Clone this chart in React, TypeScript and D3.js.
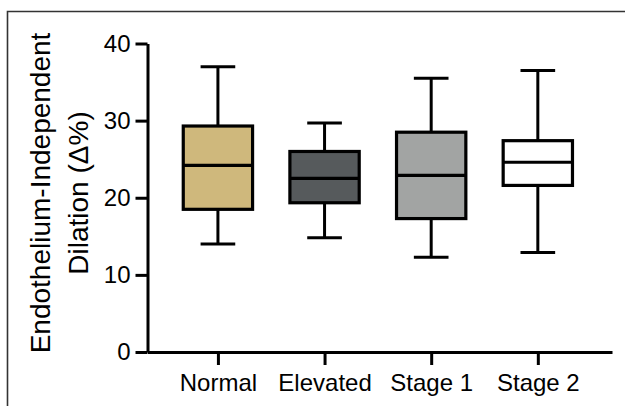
import * as d3 from "d3";
import React, { useEffect, useRef } from "react";

const groups = ["Normal", "Elevated", "Stage 1", "Stage 2"];
const whiskerLow = [14.0, 14.8, 12.3, 12.9];
const quart1 = [18.5, 19.35, 17.3, 21.6];
const medians = [24.2, 22.5, 22.9, 24.6];
const quart3 = [29.3, 26.0, 28.5, 27.4];
const whiskerHigh = [37.0, 29.7, 35.5, 36.5];
const yTicks = [0, 10, 20, 30, 40];
const fills = ["#CFB87C", "#565A5C", "#A2A4A3", "#FFFFFF"];

const FONT = "'Liberation Sans', Arial, sans-serif";

const App: React.FC = () => {
  const ref = useRef<SVGSVGElement>(null);

  useEffect(() => {
    if (!ref.current) return;
    const svg = d3.select(ref.current);
    svg.selectAll("*").remove();

    const left = 147.5,
      right = 612,
      top = 43.5,
      bottom = 352;

    const x = d3
      .scalePoint<string>()
      .domain(groups)
      .range([left, right])
      .padding(0.678)
      .align(0.487);

    const y = d3.scaleLinear().domain([0, 40]).range([bottom, top]);

    const boxW = x.step() * 0.65;
    const capW = boxW / 2;

    // frame around the figure (only left and top edges visible)
    svg
      .append("path")
      .attr("d", "M7.5,420V11.5H640")
      .attr("fill", "none")
      .attr("stroke", "#333")
      .attr("stroke-width", 1.6);

    // y axis
    const yAxis = svg
      .append("g")
      .attr("transform", `translate(${left},0)`)
      .call(
        d3
          .axisLeft(y)
          .tickValues(yTicks)
          .tickSize(12)
          .tickSizeOuter(0)
          .tickPadding(5)
      );

    // x axis
    const xAxis = svg
      .append("g")
      .attr("transform", `translate(0,${bottom})`)
      .call(d3.axisBottom(x).tickSize(13).tickSizeOuter(0).tickPadding(9));

    [yAxis, xAxis].forEach((g) => {
      g.select(".domain").attr("stroke", "#000").attr("stroke-width", 3);
      g.selectAll(".tick line").attr("stroke", "#000").attr("stroke-width", 3);
      g.selectAll(".tick text")
        .attr("fill", "#000")
        .style("font-family", FONT)
        .style("font-size", "24px");
    });

    const data = groups.map((g, i) => ({
      g,
      lo: whiskerLow[i],
      q1: quart1[i],
      med: medians[i],
      q3: quart3[i],
      hi: whiskerHigh[i],
      fill: fills[i],
    }));

    const box = svg
      .selectAll("g.box")
      .data(data)
      .join("g")
      .attr("class", "box")
      .attr("transform", (d) => `translate(${x(d.g)},0)`);

    // whiskers
    box
      .append("line")
      .attr("y1", (d) => y(d.hi))
      .attr("y2", (d) => y(d.q3))
      .attr("stroke", "#000")
      .attr("stroke-width", 3);
    box
      .append("line")
      .attr("y1", (d) => y(d.q1))
      .attr("y2", (d) => y(d.lo))
      .attr("stroke", "#000")
      .attr("stroke-width", 3);
    box
      .append("line")
      .attr("x1", -capW / 2)
      .attr("x2", capW / 2)
      .attr("y1", (d) => y(d.hi))
      .attr("y2", (d) => y(d.hi))
      .attr("stroke", "#000")
      .attr("stroke-width", 3);
    box
      .append("line")
      .attr("x1", -capW / 2)
      .attr("x2", capW / 2)
      .attr("y1", (d) => y(d.lo))
      .attr("y2", (d) => y(d.lo))
      .attr("stroke", "#000")
      .attr("stroke-width", 3);

    // boxes
    box
      .append("rect")
      .attr("x", -boxW / 2)
      .attr("width", boxW)
      .attr("y", (d) => y(d.q3))
      .attr("height", (d) => y(d.q1) - y(d.q3))
      .attr("fill", (d) => d.fill)
      .attr("stroke", "#000")
      .attr("stroke-width", 3.2);

    // medians
    box
      .append("line")
      .attr("x1", -boxW / 2)
      .attr("x2", boxW / 2)
      .attr("y1", (d) => y(d.med))
      .attr("y2", (d) => y(d.med))
      .attr("stroke", "#000")
      .attr("stroke-width", 3.2);

    // y axis title
    const title = svg
      .append("text")
      .attr("transform", "translate(50,193) rotate(-90)")
      .attr("text-anchor", "middle")
      .style("font-family", FONT)
      .style("font-size", "28px")
      .attr("fill", "#000");
    title.append("tspan").attr("x", 0).attr("y", 0).text("Endothelium-Independent");
    title.append("tspan").attr("x", 0).attr("y", 38).text("Dilation (\u0394%)");
  }, []);

  return (
    <svg
      ref={ref}
      width={625}
      height={406}
      style={{ position: "absolute", left: 0, top: 0, background: "#fff" }}
    />
  );
};

export default App;
